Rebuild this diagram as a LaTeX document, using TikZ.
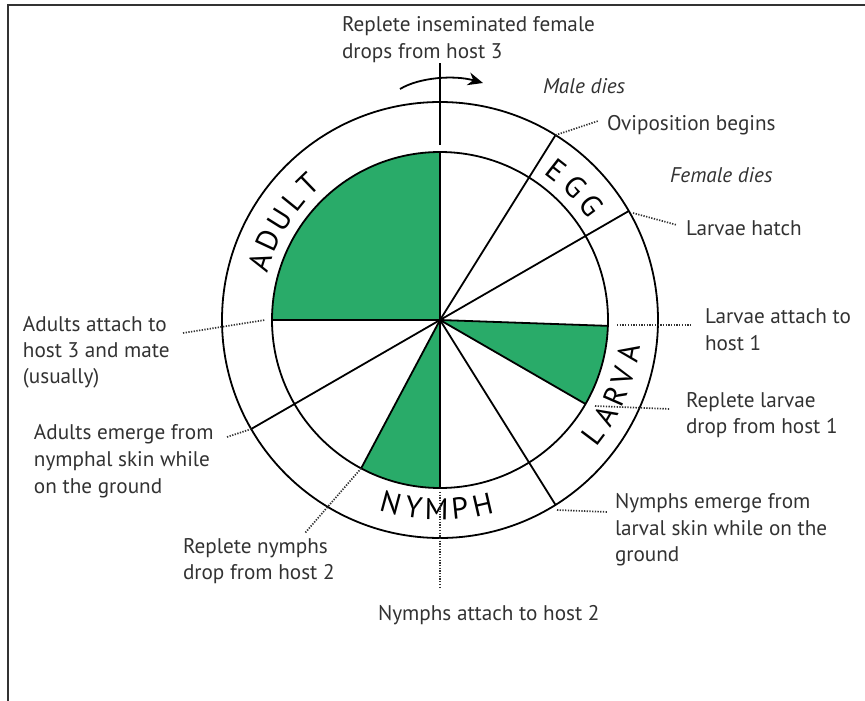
\documentclass[tikz,border=0pt]{standalone}
\usepackage{fontspec}
\setmainfont{PT Sans}
\usetikzlibrary{arrows.meta}
\definecolor{tickgreen}{RGB}{41,171,105}
\definecolor{labelgray}{RGB}{50,50,50}

\begin{document}
\begin{tikzpicture}[x=1pt,y=-1pt,
  lbl/.style={inner sep=0pt,outer sep=0pt,anchor=base west,text=labelgray,font=\fontsize{21.2}{24}\selectfont},
  ital/.style={lbl,font=\fontsize{21.2}{24}\selectfont\itshape},
  stage/.style={inner sep=0pt,outer sep=0pt,anchor=base,font=\fontsize{30}{36}\selectfont},
  leader/.style={draw=labelgray,line width=1.7pt,dash pattern=on 1.3pt off 1.4pt},
  edge/.style={draw=black,line width=1.8pt}]
\path[use as bounding box] (0,0) rectangle (865,701);
\draw[draw=labelgray,line width=1.6pt] (8,701) -- (8,5) -- (865,5);

% wheel
\begin{scope}[shift={(440,320)},y=1pt]
\coordinate (hub) at (0,0);
\fill[tickgreen] (hub) -- (90:168) arc[start angle=90,end angle=180,radius=168] -- cycle;
\fill[tickgreen] (hub) -- (-2:168) arc[start angle=-2,end angle=-30,radius=168] -- cycle;
\fill[tickgreen] (hub) -- (-90:168) arc[start angle=-90,end angle=-118,radius=168] -- cycle;
\draw[edge] (hub) circle[radius=168];
\draw[edge] (hub) circle[radius=218];
\draw[edge] (hub) -- (90:168);
\draw[edge] (hub) -- (180:168);
\draw[edge] (hub) -- (58:218) coordinate (ovi);
\draw[edge] (hub) -- (30:218) coordinate (hatch);
\draw[edge] (hub) -- (-2:168);
\draw[edge] (hub) -- (-30:168);
\draw[edge] (hub) -- (-58:218) coordinate (nemerge);
\draw[edge] (hub) -- (-90:168);
\draw[edge] (hub) -- (-118:168) coordinate (ndrop);
\draw[edge] (hub) -- (210:218) coordinate (aemerge);
\draw[edge] (90:175) coordinate (toplow) -- (90:257) coordinate (toptop);
% stage names
\node[stage,rotate=72] (ad1) at (162:179) {A};
\node[stage,rotate=65] (ad2) at (155:179) {D};
\node[stage,rotate=58] (ad3) at (148:179) {U};
\node[stage,rotate=51] (ad4) at (141:179) {L};
\node[stage,rotate=44] (ad5) at (134:179) {T};
\node[stage,rotate=-38] (eg1) at (52:179) {E};
\node[stage,rotate=-45.5] (eg2) at (44.5:179) {G};
\node[stage,rotate=-53] (eg3) at (37:179) {G};
\node[stage,rotate=53] (la1) at (-37:202) {L};
\node[stage,rotate=60] (la2) at (-30:202) {A};
\node[stage,rotate=66.5] (la3) at (-23.5:202) {R};
\node[stage,rotate=73] (la4) at (-17:202) {V};
\node[stage,rotate=80] (la5) at (-10:202) {A};
\node[stage,rotate=-15] (ny1) at (-105:200) {N};
\node[stage,rotate=-8] (ny2) at (-98:200) {Y};
\node[stage,rotate=-1] (ny3) at (-91:200) {M};
\node[stage,rotate=6] (ny4) at (-84:200) {P};
\node[stage,rotate=13] (ny5) at (-77:200) {H};
\end{scope}

% turning arrow
\draw[line width=1.8pt,-{Stealth[length=15pt,width=13pt]}] (400,89) .. controls (420,77) and (455,75) .. (483,83);

% labels
\node[lbl] (fem1) at (342,32) {Replete inseminated female};
\node[lbl] (fem2) at (342,59) {drops from host 3};
\node[ital] (male) at (543,93) {Male dies};
\node[lbl] (ovil) at (607,130) {Oviposition begins};
\node[ital] (female) at (670,182) {Female dies};
\node[lbl] (hatchl) at (686,235) {Larvae hatch};
\node[lbl] (latt1) at (705,323) {Larvae attach to};
\node[lbl] (latt2) at (705,350) {host 1};
\node[lbl] (ldrop1) at (686,407) {Replete larvae};
\node[lbl] (ldrop2) at (686,433) {drop from host 1};
\node[lbl] (nem1) at (615,508) {Nymphs emerge from};
\node[lbl] (nem2) at (615,535) {larval skin while on the};
\node[lbl] (nem3) at (615,561) {ground};
\node[lbl] (natt) at (378,620) {Nymphs attach to host 2};
\node[lbl] (ndr1) at (183,553) {Replete nymphs};
\node[lbl] (ndr2) at (183,579) {drop from host 2};
\node[lbl] (aatt1) at (23,331) {Adults attach to};
\node[lbl] (aatt2) at (23,357) {host 3 and mate};
\node[lbl] (aatt3) at (23,383) {(usually)};
\node[lbl] (aem1) at (34,439) {Adults emerge from};
\node[lbl] (aem2) at (34,466) {nymphal skin while};
\node[lbl] (aem3) at (34,493) {on the ground};

% leaders
\coordinate (ovie) at (598,121);
\coordinate (hatchs) at (633,213);
\coordinate (hatche) at (677,225);
\coordinate (latts) at (617,325);
\coordinate (latte) at (690,325);
\coordinate (ldrops) at (595,406);
\coordinate (ldrope) at (670,409);
\coordinate (nems) at (557,510);
\coordinate (neme) at (608,512);
\coordinate (natts) at (440,492);
\coordinate (natte) at (440,588);
\coordinate (ndre) at (305,533);
\coordinate (aatts) at (183,333);
\coordinate (aatte) at (265,320);
\coordinate (aems) at (227,437);
\draw[leader] (ovi) -- (ovie);
\draw[leader] (hatchs) -- (hatche);
\draw[leader] (latts) -- (latte);
\draw[leader] (ldrops) -- (ldrope);
\draw[leader] (nems) -- (neme);
\draw[leader] (natts) -- (natte);
\draw[leader] (ndrop) -- (ndre);
\draw[leader] (aatts) -- (aatte);
\draw[leader] (aems) -- (aemerge);
\end{tikzpicture}
\end{document}
